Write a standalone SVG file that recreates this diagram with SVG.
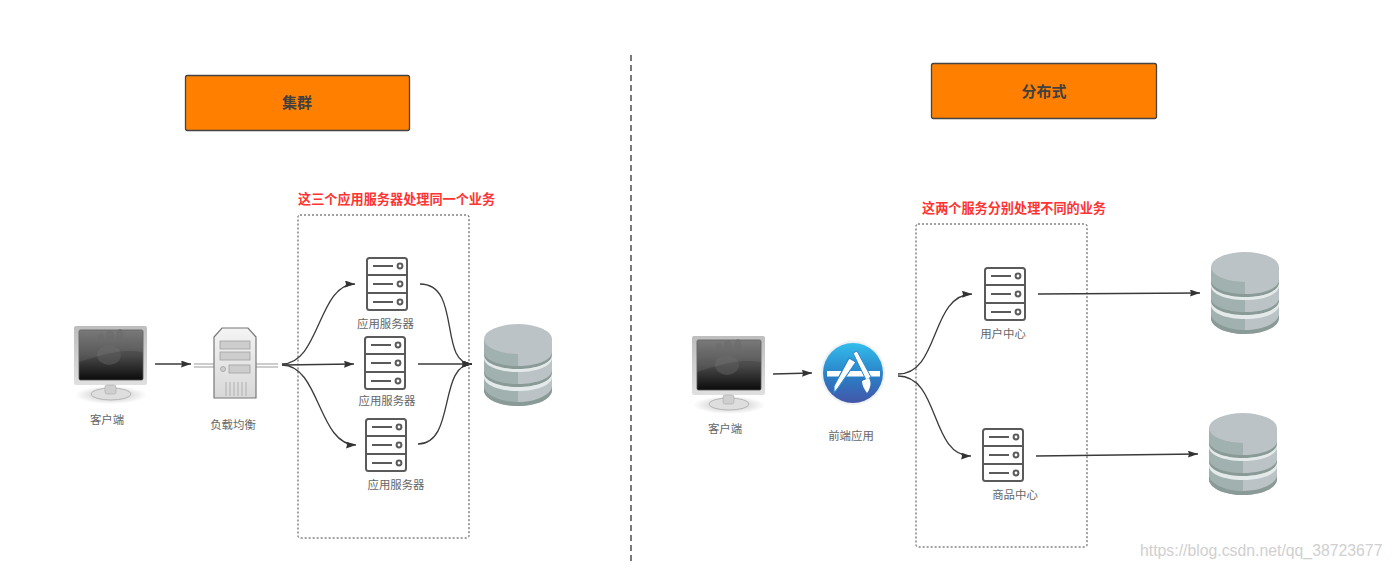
<svg xmlns="http://www.w3.org/2000/svg" xmlns:xlink="http://www.w3.org/1999/xlink" width="1392" height="569" viewBox="0 0 1392 569">
<style>
text{font-family:"Liberation Sans","Noto Sans CJK SC",sans-serif}
.lbl{font-size:11.4px;fill:#666;text-anchor:middle}
.title{font-size:15px;font-weight:bold;fill:#404040;text-anchor:middle}
.red{font-size:13.150px;font-weight:bold;fill:#ff3333}
.orange{fill:#ff8000;stroke:#444;stroke-width:1.300}
.dash{fill:none;stroke:#444;stroke-width:1;stroke-dasharray:2 2}
.conn{fill:none;stroke:#3a3a3a;stroke-width:1.300;marker-end:url(#arr)}
.srv{fill:none;stroke:#5a5a5a;stroke-width:2}
</style>
<defs>
<marker id="arr" markerUnits="userSpaceOnUse" markerWidth="11" markerHeight="8" refX="10" refY="3.500" orient="auto"><path d="M0 0L10 3.500L0 7L1 3.500Z" fill="#333"/></marker>
<linearGradient id="scr" x1="0" y1="0" x2="0" y2="1"><stop offset="0" stop-color="#6e6e6e"/><stop offset=".5" stop-color="#4a4a4a"/><stop offset="1" stop-color="#0c0c0c"/></linearGradient>
<linearGradient id="frm" x1="0" y1="0" x2="0" y2="1"><stop offset="0" stop-color="#bdbdbd"/><stop offset="1" stop-color="#e0e0e0"/></linearGradient>
<linearGradient id="blue" x1="0" y1="0" x2="0" y2="1"><stop offset="0" stop-color="#33bdec"/><stop offset=".55" stop-color="#2a7fc6"/><stop offset="1" stop-color="#4355a8"/></linearGradient>
<linearGradient id="twr" x1="0" y1="0" x2="0" y2="1"><stop offset="0" stop-color="#f4f4f4"/><stop offset="1" stop-color="#d8d8d8"/></linearGradient>
<radialGradient id="shd"><stop offset="0" stop-color="#bbb"/><stop offset="1" stop-color="#fff"/></radialGradient>
<g id="server">
<rect class="srv" x="1" y="1" width="40" height="52" rx="2.500"/>
<path class="srv" d="M1 18H41M1 36H41M7 9H27M7 27H27M7 45H27"/>
<circle class="srv" cx="34" cy="9" r="2.400"/><circle class="srv" cx="34" cy="27" r="2.400"/><circle class="srv" cx="34" cy="45" r="2.400"/>
</g>
<g id="db">
<path d="M0 15V66C0 75 15 82 34 82S68 75 68 66V15Z" fill="#bcc3c6"/>
<path d="M0 15V66C0 75 15 81 34 82V15Z" fill="#a1b1af"/>
<path d="M0 28C0 36 15 42 34 42S68 36 68 28V31C68 39 53 45 34 45S0 39 0 31Z" fill="#8a9a96"/>
<path d="M0 31C0 39 15 45 34 45S68 39 68 31V34C68 42 53 48 34 48S0 42 0 34Z" fill="#e4eaea"/>
<path d="M0 46C0 54 15 60 34 60S68 54 68 46V49C68 57 53 63 34 63S0 57 0 49Z" fill="#8a9a96"/>
<path d="M0 49C0 57 15 63 34 63S68 57 68 49V53C68 61 53 67 34 67S0 61 0 53Z" fill="#e4eaea"/>
<path d="M0 62C0 70 15 78 34 78S68 70 68 62V66C68 75 53 82 34 82S0 75 0 66Z" fill="#8a9a96"/>
<ellipse cx="34" cy="15" rx="34" ry="15" fill="#bcc3c6"/>
</g>
<g id="monitor">
<ellipse cx="37" cy="69" rx="36" ry="9" fill="url(#shd)"/>
<rect x="0" y="0" width="73" height="59" rx="2" fill="url(#frm)"/>
<rect x="5" y="4" width="64" height="50" rx="1.500" fill="url(#scr)" stroke="#555" stroke-width=".8"/>
<g fill="#5f5f5f" opacity=".55"><ellipse cx="35" cy="29" rx="12" ry="10"/><ellipse cx="27" cy="12" rx="3" ry="5"/><ellipse cx="36" cy="10" rx="4" ry="6"/><ellipse cx="46" cy="9" rx="3.500" ry="6"/></g>
<path d="M5 4H69V26C45 22 25 30 5 36Z" fill="#fff" opacity=".08"/>
<ellipse cx="37" cy="68" rx="20" ry="6" fill="#dedede" stroke="#aaa" stroke-width=".8"/>
<rect x="31" y="59" width="11" height="9" rx="2" fill="#cfcfcf" stroke="#aaa" stroke-width=".6"/>
</g>
</defs>

<g id="connectors">
<path class="conn" d="M155 364H191"/>
<path class="conn" d="M282 364C320 364 318 284 355 284"/>
<path class="conn" d="M282 365L354 364"/>
<path class="conn" d="M282 365C320 365 318 445 356 445"/>
<path class="conn" d="M420 284C462 284 438 364 472 364"/>
<path class="conn" d="M418 364H472"/>
<path class="conn" d="M418 444C456 444 438 364 472 364"/>
<path class="conn" d="M773 374L812 373"/>
<path class="conn" d="M898 374C940 374 930 295 972 294"/>
<path class="conn" d="M898 376C940 376 930 456 971 456"/>
<path class="conn" d="M1038 294L1200 293"/>
<path class="conn" d="M1036 456L1198 454"/>
</g>

<path id="divider" d="M631 55V563" fill="none" stroke="#333" stroke-width="1.300" stroke-dasharray="6 4"/>

<g id="title-cluster"><rect class="orange" x="185.500" y="75.500" width="224" height="55" rx="2"/><text class="title" x="297" y="108">集群</text></g>
<g id="title-distributed"><rect class="orange" x="931.500" y="63.500" width="225" height="55" rx="2"/><text class="title" x="1044" y="97">分布式</text></g>

<g id="group-cluster"><rect class="dash" x="298" y="215" width="171" height="323" rx="2"/><text class="red" x="298" y="204">这三个应用服务器处理同一个业务</text></g>
<g id="group-distributed"><rect class="dash" x="916" y="224" width="171" height="323" rx="2"/><text class="red" x="922" y="213">这两个服务分别处理不同的业务</text></g>

<g id="client-left"><use xlink:href="#monitor" href="#monitor" x="74" y="326"/><text class="lbl" x="107" y="424">客户端</text></g>
<g id="load-balancer">
<path d="M194 364H214M194 367H214M256 364H278M256 367H278" stroke="#bdbdbd" stroke-width="1.500" fill="none"/>
<path d="M222 328H248L256 337V398H214V337Z" fill="url(#twr)" stroke="#777" stroke-width="1.200"/>
<g fill="#cdcdcd" stroke="#a0a0a0" stroke-width=".8"><rect x="220" y="341" width="30" height="8"/><rect x="220" y="352" width="30" height="8"/><rect x="229" y="365" width="21" height="8"/><circle cx="223" cy="369" r="2.500"/></g>
<path d="M226 382V396M230 382V396M234 382V396M238 382V396M242 382V396M246 382V396" stroke="#b0b0b0"/>
<text class="lbl" x="233" y="429">负载均衡</text>
</g>
<g id="app-server-1"><use xlink:href="#server" href="#server" x="366" y="257"/><text class="lbl" x="385.500" y="328">应用服务器</text></g>
<g id="app-server-2"><use xlink:href="#server" href="#server" x="364" y="336"/><text class="lbl" x="387" y="405">应用服务器</text></g>
<g id="app-server-3"><use xlink:href="#server" href="#server" x="365" y="418"/><text class="lbl" x="396" y="489">应用服务器</text></g>
<g id="db-left"><use xlink:href="#db" href="#db" x="484" y="324"/></g>

<g id="client-right"><use xlink:href="#monitor" href="#monitor" x="692" y="336"/><text class="lbl" x="725" y="433">客户端</text></g>
<g id="frontend">
<circle cx="853" cy="373" r="32" fill="#eef0f4"/><circle cx="853" cy="373" r="30" fill="url(#blue)"/>
<rect x="827" y="371" width="53" height="5.500" fill="#fff"/>
<path d="M849 358L856 362L838 388L834 393L834 386Z" fill="#fff" stroke="#2a86cc" stroke-width="1.200"/>
<path d="M853 353L857 351L871 377L866 380Z" fill="#fff" stroke="#2a86cc" stroke-width="1"/>
<path d="M862 381L869 378C872 383 870 389 867 393C864 389 862 385 862 381Z" fill="#fff"/>
<text class="lbl" x="851" y="440">前端应用</text>
</g>
<g id="user-center"><use xlink:href="#server" href="#server" x="984" y="267"/><text class="lbl" x="1003" y="338">用户中心</text></g>
<g id="goods-center"><use xlink:href="#server" href="#server" x="982" y="428"/><text class="lbl" x="1015" y="499">商品中心</text></g>
<g id="db-right-1"><use xlink:href="#db" href="#db" x="1211" y="252"/></g>
<g id="db-right-2"><use xlink:href="#db" href="#db" x="1209" y="413"/></g>

<text x="1140" y="556" font-size="15.800" fill="#d0d0d0">https://blog.csdn.net/qq_38723677</text>
</svg>
